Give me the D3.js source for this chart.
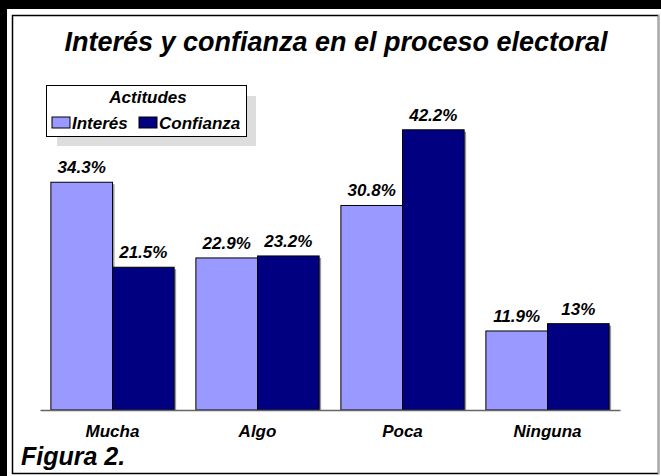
<!DOCTYPE html>
<html>
<head>
<meta charset="utf-8">
<script src="https://cdn.jsdelivr.net/npm/d3@7"></script>
<style>
  body { margin: 0; background: #fff; }
  svg text { font-family: "Liberation Sans", Arial, sans-serif; font-weight: bold; font-style: italic; fill: #000; }
</style>
</head>
<body>
<div id="chart"></div>
<script>
const categories = ["Mucha", "Algo", "Poca", "Ninguna"];
const series_names = ["Interés", "Confianza"];
const interes = [34.3, 22.9, 30.8, 11.9];
const confianza = [21.5, 23.2, 42.2, 13];
const series_colors = ["#9999ff", "#000080"];

const width = 661;
const height = 476;

let svg = d3.select("#chart").append("svg")
    .attr("width", width)
    .attr("height", height);

// black frame bands (top and left) and the inner border
svg.append("rect").attr("x", 0).attr("y", 0).attr("width", width).attr("height", 9).attr("fill", "#000");
svg.append("rect").attr("x", 0).attr("y", 0).attr("width", 7).attr("height", height).attr("fill", "#000");
svg.append("rect")
    .attr("x", 12.5).attr("y", 15.5)
    .attr("width", 646).attr("height", 458)
    .attr("fill", "#fff")
    .attr("stroke", "#000")
    .attr("stroke-width", 1.5);
svg.append("line")
    .attr("x1", 658.5).attr("x2", 658.5).attr("y1", 15).attr("y2", 474)
    .attr("stroke", "#aaa").attr("stroke-width", 1.5);

svg.append("text")
    .attr("x", 336)
    .attr("y", 51)
    .attr("text-anchor", "middle")
    .attr("font-size", 27)
    .text("Interés y confianza en el proceso electoral");

// scales
const baseline = 410;
let x = d3.scaleBand().domain(categories).range([40, 620]).paddingInner(0.15).paddingOuter(0.075);
let xs = d3.scaleBand().domain(series_names).range([0, x.bandwidth()]);
let y = d3.scaleLinear().domain([0, 45]).range([baseline, baseline - 45 * 6.64]);

const rows = categories.map(function(c, i) {
  return {cat: c, values: [
    {name: series_names[0], v: interes[i], color: series_colors[0]},
    {name: series_names[1], v: confianza[i], color: series_colors[1]}
  ]};
});

let groups = svg.selectAll(".grp")
  .data(rows)
  .enter().append("g")
    .attr("class", "grp")
    .attr("transform", function(d) { return "translate(" + x(d.cat) + ",0)"; });

// shadows first
groups.selectAll(".shadow")
  .data(function(d) { return d.values; })
  .enter().append("rect")
    .attr("x", function(d) { return xs(d.name) + 2; })
    .attr("y", function(d) { return y(d.v) + 2; })
    .attr("width", xs.bandwidth())
    .attr("height", function(d) { return baseline - y(d.v) - 2; })
    .attr("fill", "#999");

groups.selectAll(".bar")
  .data(function(d) { return d.values; })
  .enter().append("rect")
    .attr("class", "bar")
    .attr("x", function(d) { return xs(d.name); })
    .attr("y", function(d) { return y(d.v); })
    .attr("width", xs.bandwidth())
    .attr("height", function(d) { return baseline - y(d.v); })
    .attr("fill", function(d) { return d.color; })
    .attr("stroke", "#000")
    .attr("stroke-width", 1);

groups.selectAll(".lbl")
  .data(function(d) { return d.values; })
  .enter().append("text")
    .attr("x", function(d) { return xs(d.name) + xs.bandwidth() / 2; })
    .attr("y", function(d) { return y(d.v) - 9; })
    .attr("text-anchor", "middle")
    .attr("font-size", 17)
    .text(function(d) { return d.v + "%"; });

// x axis
let xAxis = svg.append("g")
    .attr("transform", "translate(0," + baseline + ")")
    .call(d3.axisBottom(x).tickSize(0).tickPadding(15));
xAxis.select(".domain").attr("stroke", "#666").attr("stroke-width", 1.5);
xAxis.selectAll("text")
    .attr("font-size", 17)
    .attr("font-family", null);

// legend
let legend = svg.append("g");
legend.append("rect").attr("x", 57).attr("y", 96).attr("width", 199).attr("height", 50).attr("fill", "#ddd");
legend.append("rect").attr("x", 46.5).attr("y", 85.5).attr("width", 200).attr("height", 51)
    .attr("fill", "#fff").attr("stroke", "#000");
legend.append("text").attr("x", 148).attr("y", 103).attr("text-anchor", "middle").attr("font-size", 17).text("Actitudes");

const legend_x = [52, 139];
let items = legend.selectAll(".item")
  .data(series_names)
  .enter().append("g")
    .attr("transform", function(d, i) { return "translate(" + legend_x[i] + ",117)"; });
items.append("rect").attr("width", 18).attr("height", 11)
    .attr("fill", function(d, i) { return series_colors[i]; })
    .attr("stroke", "#000");
items.append("text").attr("x", 20).attr("y", 12).attr("font-size", 17).text(function(d) { return d; });

svg.append("text")
    .attr("x", 21)
    .attr("y", 465)
    .attr("font-size", 25)
    .text("Figura 2.");
</script>
</body>
</html>
